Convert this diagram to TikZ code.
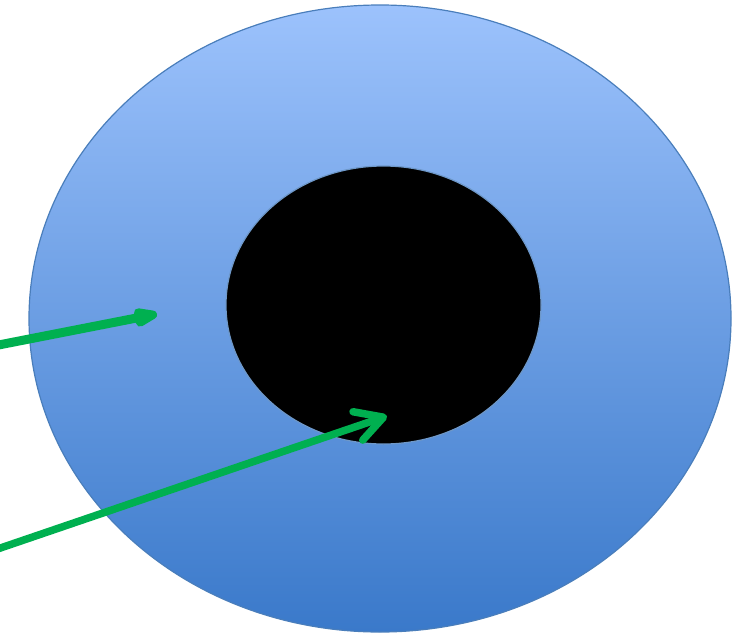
\documentclass[tikz,border=0pt]{standalone}
\usetikzlibrary{shapes.geometric,arrows.meta}
\definecolor{topblue}{HTML}{9CC2FC}
\definecolor{botblue}{HTML}{3A79CA}
\definecolor{rimblue}{HTML}{4A7EBB}
\definecolor{arrgreen}{HTML}{00B050}
\tikzset{
  disc/.style={ellipse, inner sep=0pt, draw=rimblue, line width=1.2pt},
  greenarrow/.style={draw=arrgreen, line cap=round, line join=round}
}
\begin{document}
\begin{tikzpicture}[x=1pt,y=-1pt]
\useasboundingbox (0,0) rectangle (738,634);
\node[disc, minimum width=702pt, minimum height=627pt, top color=topblue, bottom color=botblue] (outer) at (380,318.5) {};
\node[disc, fill=black, minimum width=315pt, minimum height=278pt, draw=rimblue!80] (inner) at (383.5,305) {};
\coordinate (a1start) at (-4,345.5);
\coordinate (a1end) at (157,314);
\coordinate (a2start) at (-4,549.5);
\coordinate (a2end) at (387,416);
\draw[greenarrow, line width=9pt, -{Triangle[length=34pt,width=19pt,round]}] (a1start) -- (a1end);
\draw[greenarrow, line width=7.5pt, -{Straight Barb[length=27pt,width=30pt,round]}] (a2start) -- (a2end);
\end{tikzpicture}
\end{document}
